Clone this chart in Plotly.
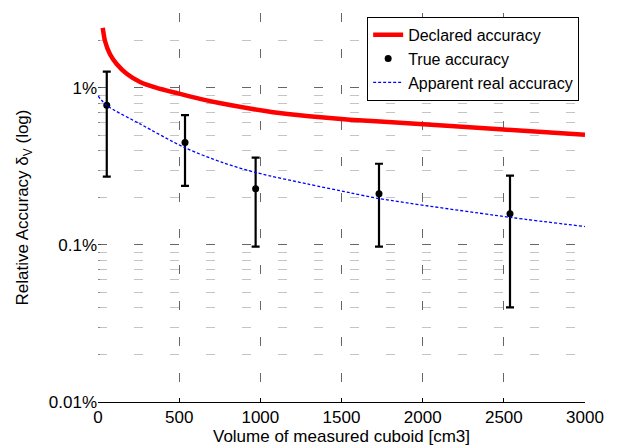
import plotly.graph_objects as go

# Declared accuracy (red curve), in %
declared_x = [29, 43, 74, 115, 177, 259, 362, 493, 628, 764, 1078, 1300, 1552, 1860, 2476, 3000]
declared_y = [2.41, 1.99, 1.64, 1.42, 1.23, 1.09, 1.0, 0.923, 0.852, 0.795, 0.700, 0.660, 0.627, 0.600, 0.545, 0.504]

# Apparent real accuracy (blue dotted curve), in %
apparent_x = [0, 54, 259, 536, 770, 979, 1287, 1552, 1737, 2538, 3000]
apparent_y = [0.889, 0.774, 0.590, 0.416, 0.334, 0.288, 0.245, 0.215, 0.197, 0.150, 0.131]

# True accuracy points with their upper/lower bounds, in %
true_x = [54, 536, 971, 1731, 2538]
true_y = [0.776, 0.450, 0.228, 0.212, 0.158]
true_hi = [1.269, 0.672, 0.360, 0.329, 0.276]
true_lo = [0.272, 0.238, 0.0977, 0.0977, 0.0401]

x_ticks = [0, 500, 1000, 1500, 2000, 2500, 3000]
y_ticks = [0.01, 0.1, 1]
y_ticktext = ["0.01%", "0.1%", "1%"]
y_minor = [0.02, 0.03, 0.04, 0.05, 0.06, 0.07, 0.08, 0.09,
           0.2, 0.3, 0.4, 0.5, 0.6, 0.7, 0.8, 0.9, 2, 3]

FONT = "Liberation Sans, Arial, sans-serif"
DASH = "9px,27px"

fig = go.Figure()
fig.add_trace(go.Scatter(
    x=declared_x, y=declared_y, mode="lines", name="Declared accuracy",
    line=dict(color="#ff0000", width=4.5, shape="spline", smoothing=0.6),
))
fig.add_trace(go.Scatter(
    x=true_x, y=true_y, mode="markers", name="True accuracy",
    marker=dict(color="black", size=7),
    error_y=dict(type="data", symmetric=False,
                 array=[h - v for h, v in zip(true_hi, true_y)],
                 arrayminus=[v - l for v, l in zip(true_y, true_lo)],
                 color="black", thickness=2.2, width=4),
))
fig.add_trace(go.Scatter(
    x=apparent_x, y=apparent_y, mode="lines", name="Apparent real accuracy",
    line=dict(color="#0000ff", width=1.3, dash="3px,2px", shape="spline", smoothing=0.8),
))

# the page body keeps its default 8px margin, so the figure is 8px smaller
fig.update_layout(
    width=612, height=439,
    margin=dict(l=90, r=35, t=5, b=45),
    paper_bgcolor="white", plot_bgcolor="white",
    font=dict(family=FONT, size=17, color="black"),
    showlegend=True,
    legend=dict(x=0.988, y=0.99, xanchor="right", yanchor="top",
                bgcolor="white", bordercolor="black", borderwidth=1,
                font=dict(family=FONT, size=16), tracegroupgap=0,
                itemwidth=30),
)
fig.update_xaxes(
    range=[0, 3000], tickvals=x_ticks, ticks="inside", ticklen=4,
    tickcolor="black", showline=True, linecolor="black", linewidth=1,
    showgrid=True, gridcolor="#666666", griddash=DASH, gridwidth=1,
    zeroline=False, automargin=False,
    title=dict(text="Volume of measured cuboid [cm3]", standoff=0,
               font=dict(family=FONT, size=17)),
    tickfont=dict(family=FONT, size=17),
)
fig.update_yaxes(
    type="log", range=[-2, 0.47712], tickvals=y_ticks, ticktext=y_ticktext,
    ticks="inside", ticklen=3, tickcolor="#444444",
    showline=False, showgrid=True, gridcolor="#666666", griddash=DASH, gridwidth=1,
    minor=dict(tickvals=y_minor, showgrid=True, gridcolor="#c4c4c4",
               griddash=DASH, ticks="inside", ticklen=2, tickcolor="#888888"),
    zeroline=False, automargin=False,
    title=dict(text="Relative Accuracy δ<sub>V</sub> (log)", standoff=15,
               font=dict(family=FONT, size=17)),
    tickfont=dict(family=FONT, size=17),
)

fig.write_html("out.html")
